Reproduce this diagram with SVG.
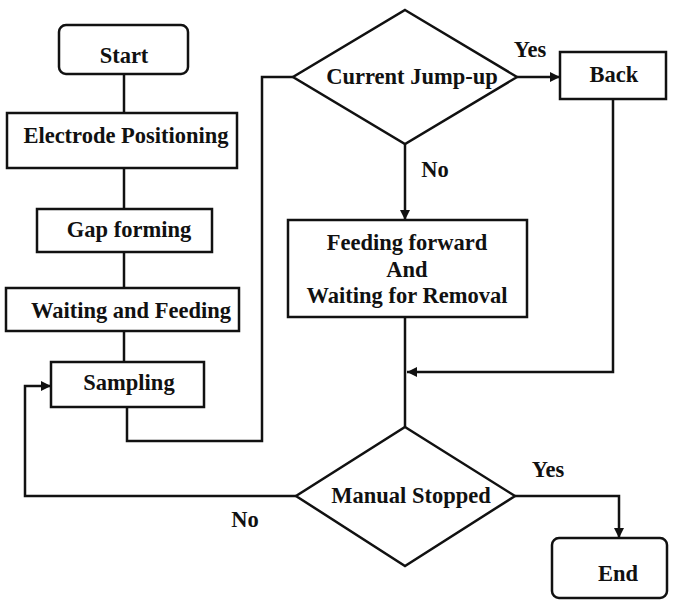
<svg xmlns="http://www.w3.org/2000/svg" width="678" height="603" viewBox="0 0 678 603">
  <style>
    .box { fill: #fff; stroke: #111; stroke-width: 2.5; }
    .wire { fill: none; stroke: #111; stroke-width: 2.5; }
    text { font-family: "Liberation Serif", "Times New Roman", serif; font-weight: bold; font-size: 22.5px; fill: #111; text-anchor: middle; }
  </style>
  <defs>
    <marker id="arrow" viewBox="0 0 10 10" refX="10" refY="5" markerWidth="10" markerHeight="10" markerUnits="userSpaceOnUse" orient="auto">
      <path d="M0,0 L10,5 L0,10 Z" fill="#111"/>
    </marker>
  </defs>
  <rect width="678" height="603" fill="#fff"/>

  <g id="connectors">
    <line class="wire" x1="124" y1="74" x2="124" y2="113"/>
    <line class="wire" x1="124" y1="168" x2="124" y2="209"/>
    <line class="wire" x1="124" y1="252" x2="124" y2="288"/>
    <line class="wire" x1="124" y1="331" x2="124" y2="362"/>
    <!-- Sampling to Current Jump-up -->
    <polyline class="wire" points="127,407 127,441 262,441 262,77 293,77"/>
    <!-- Yes branch to Back -->
    <line class="wire" x1="517" y1="77" x2="560" y2="77" marker-end="url(#arrow)"/>
    <!-- No branch to Feeding -->
    <line class="wire" x1="405" y1="144" x2="405" y2="220" marker-end="url(#arrow)"/>
    <!-- Back rejoins main line -->
    <polyline class="wire" points="613,99 613,372 407,372" marker-end="url(#arrow)"/>
    <line class="wire" x1="405" y1="317" x2="405" y2="427"/>
    <!-- Manual Stopped: No loops back to Sampling -->
    <polyline class="wire" points="296,496 25,496 25,386 51,386" marker-end="url(#arrow)"/>
    <!-- Manual Stopped: Yes to End -->
    <polyline class="wire" points="515,496 619,496 619,538" marker-end="url(#arrow)"/>
    <text x="530" y="57">Yes</text>
    <text x="435" y="177">No</text>
    <text x="548" y="477">Yes</text>
    <text x="245" y="527">No</text>
  </g>

  <g id="start">
    <rect class="box" x="59" y="25" width="129" height="49" rx="7"/>
    <text x="124" y="63">Start</text>
  </g>
  <g id="electrode-positioning">
    <rect class="box" x="7" y="113" width="230" height="55"/>
    <text x="126" y="143">Electrode Positioning</text>
  </g>
  <g id="gap-forming">
    <rect class="box" x="37" y="209" width="175" height="43"/>
    <text x="129" y="237">Gap forming</text>
  </g>
  <g id="waiting-feeding">
    <rect class="box" x="6" y="288" width="233" height="43"/>
    <text x="131" y="318">Waiting and Feeding</text>
  </g>
  <g id="sampling">
    <rect class="box" x="51" y="362" width="153" height="45"/>
    <text x="129" y="390">Sampling</text>
  </g>
  <g id="current-jump-up">
    <polygon class="box" points="405,10 517,77 405,144 293,77"/>
    <text x="412" y="84">Current Jump-up</text>
  </g>
  <g id="back">
    <rect class="box" x="560" y="52" width="106" height="47"/>
    <text x="614" y="82">Back</text>
  </g>
  <g id="feeding-forward">
    <rect class="box" x="288" y="220" width="239" height="97"/>
    <text x="407" y="250">Feeding forward</text>
    <text x="407" y="277">And</text>
    <text x="407" y="303">Waiting for Removal</text>
  </g>
  <g id="manual-stopped">
    <polygon class="box" points="405,427 515,496 405,566 296,496"/>
    <text x="411" y="503">Manual Stopped</text>
  </g>
  <g id="end">
    <rect class="box" x="552" y="538" width="115" height="60" rx="7"/>
    <text x="618" y="581">End</text>
  </g>
</svg>
